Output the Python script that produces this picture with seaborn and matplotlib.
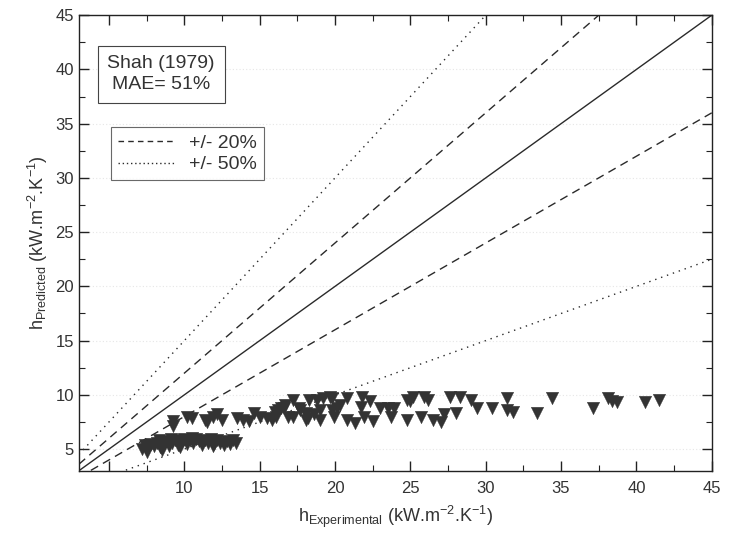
import numpy as np
import pandas as pd
import matplotlib
matplotlib.use("Agg")
import matplotlib.pyplot as plt
from matplotlib.ticker import MultipleLocator
from matplotlib.lines import Line2D
import seaborn as sns

# ---- data ----
x_low = [7.2, 7.4, 7.6, 7.8, 8.0, 8.2, 8.4, 8.6, 8.8, 9.0, 9.2, 9.4, 9.6, 9.8, 10.0,
         10.2, 10.4, 10.6, 10.8, 11.0, 11.2, 11.4, 11.6, 11.8, 12.0, 12.2, 12.4, 12.6,
         12.8, 13.0, 13.2, 13.4, 8.3, 9.1, 10.5, 7.5, 8.5, 11.9, 9.7]
y_low = [5.0, 5.4, 5.1, 5.5, 5.3, 5.6, 5.2, 5.5, 5.7, 5.3, 5.6, 5.8, 5.4, 5.7, 5.9,
         5.5, 5.8, 5.6, 5.9, 5.7, 5.4, 5.8, 5.6, 5.9, 5.5, 5.8, 5.6, 5.4,
         5.7, 5.5, 5.8, 5.6, 5.8, 5.9, 6.0, 4.7, 4.9, 5.3, 5.2]

x_up = [9.25, 9.25, 10.2, 10.5, 11.4, 11.5, 11.9, 12.2, 12.5, 13.5, 13.9, 14.3, 14.6,
        15.0, 15.5, 15.8, 16.2, 16.6, 17.2, 17.7, 18.1, 18.3, 19.0, 19.7, 18.6, 19.0,
        19.9, 20.3, 20.8, 20.8, 21.3, 21.8, 21.7, 21.9, 22.3, 22.5, 23.0, 23.5, 23.9,
        23.7, 24.8, 24.8, 25.2, 25.9, 25.0, 26.2, 25.7, 26.5, 27.2, 27.0, 27.6, 28.3,
        28.0, 29.0, 29.4, 30.4, 31.4, 31.4, 31.8, 33.4, 34.4, 37.1, 38.1, 38.4, 38.7,
        40.6, 41.5,
        16.7, 16.4, 16.0, 17.6, 17.2, 18.8, 19.2, 19.8, 19.8, 20.1, 18.1, 18.2, 16.1, 16.9]
y_up = [7.6, 7.1, 8.0, 7.9, 7.7, 7.5, 8.0, 8.2, 7.7, 7.9, 7.7, 7.6, 8.3,
        8.0, 7.9, 7.7, 8.6, 8.8, 9.5, 8.6, 7.7, 9.5, 8.6, 9.8, 8.2, 7.7,
        8.0, 9.1, 9.7, 7.7, 7.4, 9.8, 8.9, 8.0, 9.4, 7.6, 8.8, 8.8, 8.8,
        8.0, 7.7, 9.5, 9.8, 9.8, 9.4, 9.5, 8.0, 7.7, 8.2, 7.5, 9.8, 9.8,
        8.3, 9.5, 8.8, 8.8, 9.7, 8.6, 8.4, 8.3, 9.7, 8.8, 9.7, 9.4, 9.3,
        9.3, 9.5,
        9.1, 8.8, 8.4, 8.8, 8.0, 9.5, 9.7, 9.7, 8.6, 8.8, 8.3, 7.9, 8.0, 8.0]

h_exp = x_low + x_up
h_pred = y_low + y_up

ratios = [1.0, 1.2, 0.8, 1.5, 0.5]
dash_style = (0, (6, 4))
dot_style = (0, (1, 3.5))
ratio_styles = ["-", dash_style, dash_style, dot_style, dot_style]
x_ticks = [5, 10, 15, 20, 25, 30, 35, 40, 45]
x_ticklabels = ["", "10", "15", "20", "25", "30", "35", "40", "45"]
y_ticks = [5, 10, 15, 20, 25, 30, 35, 40, 45]

# ---- styling ----
sns.set_theme(style="ticks")
plt.rcParams["font.family"] = ["Liberation Sans", "DejaVu Sans"]
plt.rcParams["mathtext.fontset"] = "custom"
plt.rcParams["mathtext.rm"] = "Liberation Sans"
plt.rcParams["mathtext.it"] = "Liberation Sans:italic"

fig = plt.figure(figsize=(7.3, 5.43), dpi=100)
ax = fig.add_axes([0.108, 0.133, 0.867, 0.839])

for y in y_ticks:
    ax.axhline(y, color="#e6e6e6", lw=0.8, ls=(0, (1, 2)), zorder=0)

line_x = np.array([3, 45])
df_lines = pd.DataFrame({"x": np.concatenate([line_x] * len(ratios)),
                         "y": np.concatenate([line_x * r for r in ratios]),
                         "k": np.repeat(np.arange(len(ratios)), 2)})
for i, (r, ls) in enumerate(zip(ratios, ratio_styles)):
    sub = df_lines[df_lines.k == i]
    sns.lineplot(data=sub, x="x", y="y", ax=ax, color="#2a2a2a",
                 lw=1.0, linestyle=ls, legend=False, zorder=2)

df = pd.DataFrame({"exp": h_exp, "pred": h_pred})
sns.scatterplot(data=df, x="exp", y="pred", ax=ax, marker="v", s=80,
                color="#333333", edgecolor="#333333", linewidth=0.3, zorder=3)

ax.set_xlim(3, 45)
ax.set_ylim(3, 45)
ax.set_xticks(x_ticks)
ax.set_xticklabels(x_ticklabels)
ax.set_yticks(y_ticks)
ax.xaxis.set_minor_locator(MultipleLocator(2.5))
ax.yaxis.set_minor_locator(MultipleLocator(2.5))
ax.tick_params(which="both", direction="in", top=True, right=True,
               colors="#222222", labelsize=12, labelcolor="#333333")
ax.tick_params(which="major", length=7, width=1)
ax.tick_params(which="minor", length=4, width=0.8)
ax.tick_params(axis="x", pad=7)
for s in ax.spines.values():
    s.set_color("#222222")
    s.set_linewidth(1.0)

ax.set_xlabel(r"h$_{\mathrm{Experimental}}$ (kW.m$^{\mathrm{-2}}$.K$^{\mathrm{-1}}$)",
              fontsize=13, color="#333333", labelpad=6)
ax.set_ylabel(r"h$_{\mathrm{Predicted}}$ (kW.m$^{\mathrm{-2}}$.K$^{\mathrm{-1}}$)",
              fontsize=13, color="#333333", labelpad=4)

ax.text(0.13, 0.87, "Shah (1979)\nMAE= 51%", transform=ax.transAxes,
        ha="center", va="center", fontsize=14, color="#333333", linespacing=1.3,
        bbox=dict(boxstyle="square,pad=0.5", fc="white", ec="#444444", lw=0.8))

handles = [Line2D([], [], color="#2a2a2a", lw=1.0, ls=(0, (4, 3))),
           Line2D([], [], color="#2a2a2a", lw=1.0, ls=(0, (1, 2)))]
leg = ax.legend(handles, ["+/- 20%", "+/- 50%"], loc="upper left",
                bbox_to_anchor=(0.035, 0.775), fontsize=14, frameon=True,
                fancybox=False, edgecolor="#444444", handlelength=3.0,
                borderpad=0.35, labelspacing=0.2, handletextpad=0.7)
leg.get_frame().set_linewidth(0.8)
for t in leg.get_texts():
    t.set_color("#333333")

fig.savefig("out.png", dpi=100)
